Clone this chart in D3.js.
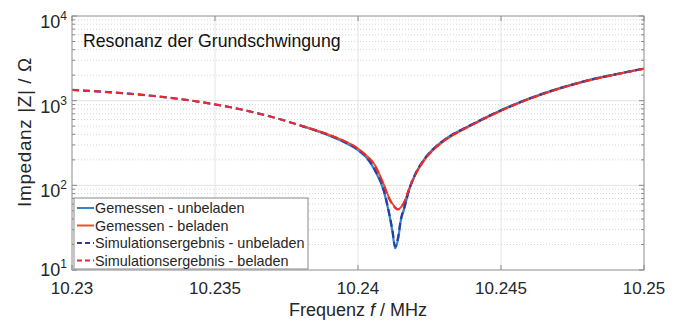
<!DOCTYPE html>
<html>
<head>
<meta charset="utf-8">
<script src="https://cdn.jsdelivr.net/npm/d3@7"></script>
<style>
  body { margin: 0; background: #fff; }
  text { font-family: "Liberation Sans", Arial, sans-serif; }
</style>
</head>
<body>
<script>
// simulation curves span the whole range
var simFreq = [10.230, 10.231, 10.232, 10.233, 10.234, 10.235, 10.236, 10.237, 10.238, 10.239, 10.2395,
  10.240, 10.2403, 10.2406, 10.2409, 10.2411, 10.2412, 10.2413, 10.2414, 10.2415, 10.2416, 10.2418,
  10.242, 10.2423, 10.2426, 10.243, 10.244, 10.245, 10.246, 10.247, 10.248, 10.249, 10.250];
var simUnbeladen = [1340, 1279, 1208, 1122, 1021, 904, 776, 641, 507, 390, 330,
  265, 215, 150, 88, 45, 30, 19, 24, 40, 52, 92,
  135, 200, 262, 340, 526, 769, 1062, 1384, 1722, 2046, 2393];
var simBeladen = [1340, 1279, 1208, 1122, 1021, 904, 776, 641, 507, 395, 335,
  270, 222, 168, 100, 68, 60, 54, 52, 56, 62, 94,
  133, 196, 257, 335, 520, 762, 1052, 1374, 1712, 2036, 2383];

// measurements start at ~10.238 MHz
var measFreq = [10.238, 10.239, 10.2395, 10.240, 10.2403, 10.2406, 10.2409, 10.2411, 10.2412, 10.2413,
  10.2414, 10.2415, 10.2416, 10.2418, 10.242, 10.2423, 10.2426, 10.243, 10.244, 10.245, 10.246,
  10.247, 10.248, 10.249, 10.250];
var measUnbeladen = [505, 385, 325, 260, 212, 148, 86, 44, 29, 18,
  23, 39, 51, 91, 134, 200, 263, 342, 528, 772, 1065,
  1388, 1725, 2050, 2398];
var measBeladen = [510, 395, 338, 272, 224, 172, 103, 70, 61, 55,
  52, 55, 61, 93, 132, 194, 255, 332, 518, 760, 1050,
  1372, 1710, 2034, 2380];

var xTicks = [10.23, 10.235, 10.24, 10.245, 10.25];
var yTicks = [10, 100, 1000, 10000];

var legendNames = ["Gemessen - unbeladen", "Gemessen - beladen",
  "Simulationsergebnis - unbeladen", "Simulationsergebnis - beladen"];

var svg = d3.select("body").append("svg")
    .attr("width", 684)
    .attr("height", 322);

var margin = {left: 72, top: 16, right: 40, bottom: 52};
var width = 684 - margin.left - margin.right;
var height = 322 - margin.top - margin.bottom;

var x = d3.scaleLinear().domain([10.23, 10.25]).range([0, width]);
var y = d3.scaleLog().domain([10, 10000]).range([height, 0]);

var g = svg.append("g")
    .attr("transform", "translate(" + margin.left + "," + margin.top + ")");

// minor grid (dotted) on y
var minor = [];
[10, 100, 1000].forEach(function(d) {
  for (var k = 2; k <= 9; k++) minor.push(d * k);
});
g.selectAll(".ming").data(minor).enter().append("line")
    .attr("x1", 0).attr("x2", width)
    .attr("y1", function(d) { return y(d); })
    .attr("y2", function(d) { return y(d); })
    .attr("stroke", "#d6d6d6").attr("stroke-width", 1)
    .attr("stroke-dasharray", "1,2");

// major grid
g.selectAll(".gy").data(yTicks).enter().append("line")
    .attr("x1", 0).attr("x2", width)
    .attr("y1", function(d) { return y(d); })
    .attr("y2", function(d) { return y(d); })
    .attr("stroke", "#e4e4e4");
g.selectAll(".gx").data(xTicks).enter().append("line")
    .attr("x1", function(d) { return x(d); })
    .attr("x2", function(d) { return x(d); })
    .attr("y1", 0).attr("y2", height)
    .attr("stroke", "#e4e4e4");

// curves
var line = function(xs) {
  return d3.line()
    .x(function(d, i) { return x(xs[i]); })
    .y(function(d) { return y(d); })
    .curve(d3.curveMonotoneX);
};

g.append("path").datum(measUnbeladen)
    .attr("d", line(measFreq)).attr("fill", "none")
    .attr("stroke", "#2f86cc").attr("stroke-width", 2.2);
g.append("path").datum(measBeladen)
    .attr("d", line(measFreq)).attr("fill", "none")
    .attr("stroke", "#e4542a").attr("stroke-width", 2);
g.append("path").datum(simUnbeladen)
    .attr("d", line(simFreq)).attr("fill", "none")
    .attr("stroke", "#2b3aa6").attr("stroke-width", 2.2)
    .attr("stroke-dasharray", "7,4");
g.append("path").datum(simBeladen)
    .attr("d", line(simFreq)).attr("fill", "none")
    .attr("stroke", "#f0282d").attr("stroke-width", 2)
    .attr("stroke-dasharray", "7,4");

// box + ticks
g.append("rect").attr("width", width).attr("height", height)
    .attr("fill", "none").attr("stroke", "#9a9a9a");

var axColor = "#8a8a8a";
xTicks.forEach(function(t) {
  g.append("line").attr("x1", x(t)).attr("x2", x(t))
      .attr("y1", height).attr("y2", height - 5).attr("stroke", axColor);
  g.append("line").attr("x1", x(t)).attr("x2", x(t))
      .attr("y1", 0).attr("y2", 5).attr("stroke", axColor);
});
yTicks.forEach(function(t) {
  g.append("line").attr("x1", 0).attr("x2", 5)
      .attr("y1", y(t)).attr("y2", y(t)).attr("stroke", axColor);
  g.append("line").attr("x1", width).attr("x2", width - 5)
      .attr("y1", y(t)).attr("y2", y(t)).attr("stroke", axColor);
});
minor.forEach(function(t) {
  g.append("line").attr("x1", 0).attr("x2", 3)
      .attr("y1", y(t)).attr("y2", y(t)).attr("stroke", axColor);
  g.append("line").attr("x1", width).attr("x2", width - 3)
      .attr("y1", y(t)).attr("y2", y(t)).attr("stroke", axColor);
});

// tick labels
g.selectAll(".xl").data(xTicks).enter().append("text")
    .attr("x", function(d) { return x(d); })
    .attr("y", height + 24)
    .attr("text-anchor", "middle")
    .attr("font-size", 17).attr("fill", "#262626")
    .text(function(d) { return d3.format("")(d); });

var yl = g.selectAll(".yl").data(yTicks).enter().append("text")
    .attr("x", -5)
    .attr("y", function(d) { return y(d) + (d === 10 ? 6 : 12); })
    .attr("text-anchor", "end")
    .attr("font-size", 18).attr("fill", "#262626");
yl.append("tspan").text("10");
yl.append("tspan").attr("dy", -8).attr("font-size", 12)
    .text(function(d) { return Math.round(Math.log10(d)); });

// axis labels
svg.append("text")
    .attr("x", margin.left + width / 2)
    .attr("y", 316)
    .attr("text-anchor", "middle")
    .attr("font-size", 18).attr("fill", "#262626")
    .call(function(t) {
      t.append("tspan").text("Frequenz ");
      t.append("tspan").attr("font-style", "italic").text("f");
      t.append("tspan").text(" / MHz");
    });

svg.append("text")
    .attr("transform", "translate(31,132) rotate(-90)")
    .attr("text-anchor", "middle")
    .attr("font-size", 19).attr("fill", "#262626")
    .attr("letter-spacing", 0.6)
    .text("Impedanz |Z| / Ω");

// title inside the plot
g.append("text")
    .attr("x", 11).attr("y", 31)
    .attr("font-family", "'Open Sans', sans-serif")
    .attr("font-size", 17.7).attr("fill", "#111")
    .text("Resonanz der Grundschwingung");

// legend
var legColors = ["#2f86cc", "#e4542a", "#2b3aa6", "#f0282d"];
var legDash = [null, null, "5,3", "5,3"];
var leg = g.append("g").attr("transform", "translate(2," + (height - 72) + ")");
leg.append("rect").attr("width", 234).attr("height", 71)
    .attr("fill", "#fff").attr("stroke", "#8a8a8a");
legendNames.forEach(function(name, i) {
  var yy = 10 + i * 17.5;
  leg.append("line").attr("x1", 3).attr("x2", 20)
      .attr("y1", yy).attr("y2", yy)
      .attr("stroke", legColors[i]).attr("stroke-width", 2)
      .attr("stroke-dasharray", legDash[i]);
  leg.append("text").attr("x", 21).attr("y", yy + 5)
      .attr("font-size", 14.4).attr("fill", "#262626")
      .text(name);
});
</script>
</body>
</html>
